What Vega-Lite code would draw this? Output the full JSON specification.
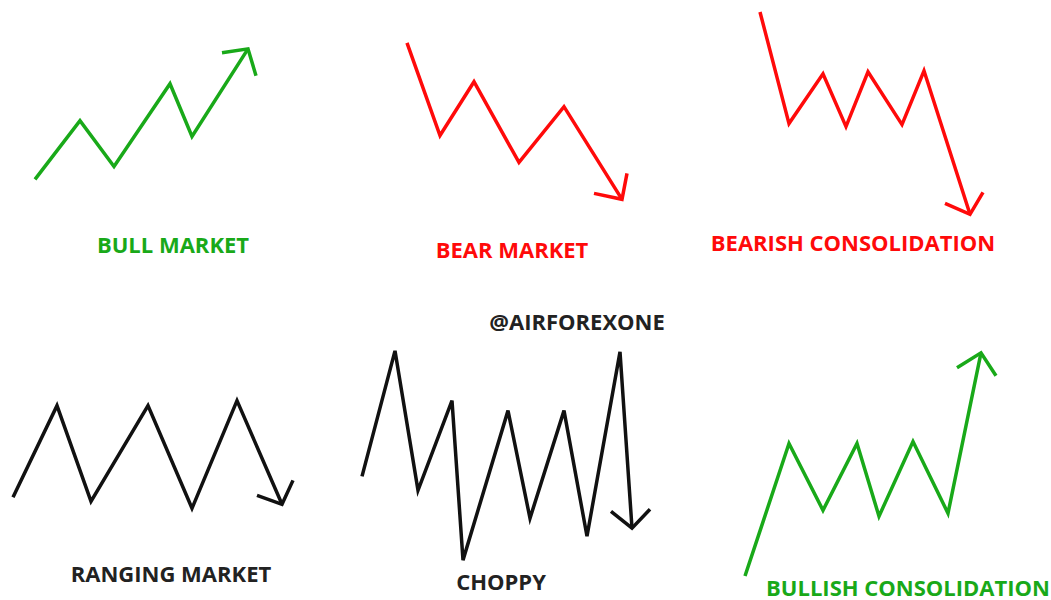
{
  "$schema": "https://vega.github.io/schema/vega-lite/v6.json",
  "autosize": {"type": "fit", "contains": "padding"},
  "width": 1051,
  "height": 600,
  "padding": 0,
  "background": "white",
  "config": {"view": {"stroke": null}},
  "datasets": {
    "lines": [
      {"s": "bull", "k": "up", "i": 0, "x": 35, "y": 180},
      {"s": "bull", "k": "up", "i": 1, "x": 80, "y": 121},
      {"s": "bull", "k": "up", "i": 2, "x": 114, "y": 167},
      {"s": "bull", "k": "up", "i": 3, "x": 170, "y": 84},
      {"s": "bull", "k": "up", "i": 4, "x": 192, "y": 137},
      {"s": "bull", "k": "up", "i": 5, "x": 248, "y": 49},
      {"s": "bullA", "k": "up", "i": 0, "x": 222, "y": 53},
      {"s": "bullA", "k": "up", "i": 1, "x": 248, "y": 49},
      {"s": "bullA", "k": "up", "i": 2, "x": 256, "y": 76},

      {"s": "bear", "k": "down", "i": 0, "x": 407, "y": 43},
      {"s": "bear", "k": "down", "i": 1, "x": 440, "y": 136},
      {"s": "bear", "k": "down", "i": 2, "x": 474, "y": 82},
      {"s": "bear", "k": "down", "i": 3, "x": 519, "y": 163},
      {"s": "bear", "k": "down", "i": 4, "x": 564, "y": 107},
      {"s": "bear", "k": "down", "i": 5, "x": 622, "y": 200},
      {"s": "bearA", "k": "down", "i": 0, "x": 594, "y": 194},
      {"s": "bearA", "k": "down", "i": 1, "x": 622, "y": 200},
      {"s": "bearA", "k": "down", "i": 2, "x": 627, "y": 174},

      {"s": "bcons", "k": "down", "i": 0, "x": 760, "y": 12},
      {"s": "bcons", "k": "down", "i": 1, "x": 789, "y": 124},
      {"s": "bcons", "k": "down", "i": 2, "x": 823, "y": 74},
      {"s": "bcons", "k": "down", "i": 3, "x": 846, "y": 127},
      {"s": "bcons", "k": "down", "i": 4, "x": 868, "y": 72},
      {"s": "bcons", "k": "down", "i": 5, "x": 902, "y": 125},
      {"s": "bcons", "k": "down", "i": 6, "x": 924, "y": 71},
      {"s": "bcons", "k": "down", "i": 7, "x": 970, "y": 215},
      {"s": "bconsA", "k": "down", "i": 0, "x": 945, "y": 204},
      {"s": "bconsA", "k": "down", "i": 1, "x": 970, "y": 215},
      {"s": "bconsA", "k": "down", "i": 2, "x": 983, "y": 193},

      {"s": "range", "k": "flat", "i": 0, "x": 13, "y": 499},
      {"s": "range", "k": "flat", "i": 1, "x": 57, "y": 407},
      {"s": "range", "k": "flat", "i": 2, "x": 91, "y": 503},
      {"s": "range", "k": "flat", "i": 3, "x": 148, "y": 407},
      {"s": "range", "k": "flat", "i": 4, "x": 192, "y": 510},
      {"s": "range", "k": "flat", "i": 5, "x": 237, "y": 402},
      {"s": "range", "k": "flat", "i": 6, "x": 282, "y": 506},
      {"s": "rangeA", "k": "flat", "i": 0, "x": 257, "y": 497},
      {"s": "rangeA", "k": "flat", "i": 1, "x": 282, "y": 506},
      {"s": "rangeA", "k": "flat", "i": 2, "x": 293, "y": 482},

      {"s": "chop", "k": "flat", "i": 0, "x": 362, "y": 478},
      {"s": "chop", "k": "flat", "i": 1, "x": 395, "y": 352},
      {"s": "chop", "k": "flat", "i": 2, "x": 418, "y": 492},
      {"s": "chop", "k": "flat", "i": 3, "x": 452, "y": 402},
      {"s": "chop", "k": "flat", "i": 4, "x": 463, "y": 562},
      {"s": "chop", "k": "flat", "i": 5, "x": 508, "y": 412},
      {"s": "chop", "k": "flat", "i": 6, "x": 530, "y": 520},
      {"s": "chop", "k": "flat", "i": 7, "x": 564, "y": 412},
      {"s": "chop", "k": "flat", "i": 8, "x": 587, "y": 538},
      {"s": "chop", "k": "flat", "i": 9, "x": 620, "y": 353},
      {"s": "chop", "k": "flat", "i": 10, "x": 632, "y": 530},
      {"s": "chopA", "k": "flat", "i": 0, "x": 611, "y": 513},
      {"s": "chopA", "k": "flat", "i": 1, "x": 632, "y": 530},
      {"s": "chopA", "k": "flat", "i": 2, "x": 650, "y": 511},

      {"s": "ucons", "k": "up", "i": 0, "x": 745, "y": 578},
      {"s": "ucons", "k": "up", "i": 1, "x": 789, "y": 445},
      {"s": "ucons", "k": "up", "i": 2, "x": 823, "y": 512},
      {"s": "ucons", "k": "up", "i": 3, "x": 857, "y": 445},
      {"s": "ucons", "k": "up", "i": 4, "x": 879, "y": 518},
      {"s": "ucons", "k": "up", "i": 5, "x": 913, "y": 443},
      {"s": "ucons", "k": "up", "i": 6, "x": 948, "y": 515},
      {"s": "ucons", "k": "up", "i": 7, "x": 981, "y": 354},
      {"s": "uconsA", "k": "up", "i": 0, "x": 957, "y": 369},
      {"s": "uconsA", "k": "up", "i": 1, "x": 981, "y": 354},
      {"s": "uconsA", "k": "up", "i": 2, "x": 996, "y": 377}
    ],
    "labels": [
      {"t": "BULL MARKET", "k": "up", "x": 173, "y": 247},
      {"t": "BEAR MARKET", "k": "down", "x": 512, "y": 252},
      {"t": "BEARISH CONSOLIDATION", "k": "down", "x": 853, "y": 245},
      {"t": "@AIRFOREXONE", "k": "flat", "x": 577, "y": 324},
      {"t": "RANGING MARKET", "k": "flat", "x": 171, "y": 577},
      {"t": "CHOPPY", "k": "flat", "x": 501, "y": 585},
      {"t": "BULLISH CONSOLIDATION", "k": "up", "x": 908, "y": 591}
    ]
  },
  "layer": [
    {
      "data": {"name": "lines"},
      "mark": {"type": "line", "strokeWidth": 3.5, "strokeJoin": "miter", "strokeCap": "butt", "clip": false},
      "encoding": {
        "x": {"field": "x", "type": "quantitative", "scale": {"domain": [0, 1051], "nice": false, "zero": false}, "axis": null},
        "y": {"field": "y", "type": "quantitative", "scale": {"domain": [0, 600], "nice": false, "zero": false, "reverse": true}, "axis": null},
        "detail": {"field": "s", "type": "nominal"},
        "order": {"field": "i", "type": "quantitative"},
        "color": {"field": "k", "type": "nominal", "scale": {"domain": ["up", "down", "flat"], "range": ["#19a919", "#ff0a0a", "#111111"]}, "legend": null}
      }
    },
    {
      "data": {"name": "labels"},
      "mark": {"type": "text", "font": "Open Sans", "fontWeight": "bold", "fontSize": 22, "align": "center", "baseline": "middle"},
      "encoding": {
        "x": {"field": "x", "type": "quantitative", "scale": {"domain": [0, 1051], "nice": false, "zero": false}, "axis": null},
        "y": {"field": "y", "type": "quantitative", "scale": {"domain": [0, 600], "nice": false, "zero": false, "reverse": true}, "axis": null},
        "text": {"field": "t", "type": "nominal"},
        "color": {"field": "k", "type": "nominal", "scale": {"domain": ["up", "down", "flat"], "range": ["#19a919", "#ff0a0a", "#222222"]}, "legend": null}
      }
    }
  ],
  "resolve": {"scale": {"color": "independent"}}
}
